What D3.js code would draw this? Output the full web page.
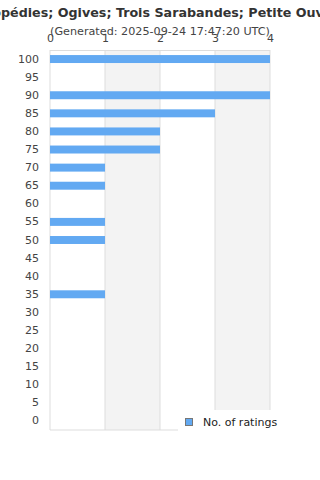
<!DOCTYPE html>
<html>
<head>
<meta charset="utf-8">
<script src="https://cdn.jsdelivr.net/npm/d3@7"></script>
<style>
  body { margin: 0; background: #fff; font-family: "DejaVu Sans", sans-serif; }
  svg { display: block; }
</style>
</head>
<body>
<svg width="320" height="480"></svg>
<script>
var categories = ["100","95","90","85","80","75","70","65","60","55","50","45","40","35","30","25","20","15","10","5","0"];
var ratings = [4,0,4,3,2,2,1,1,0,1,1,0,0,1,0,0,0,0,0,0,0];
var xTicks = [0,1,2,3,4];
var seriesName = "No. of ratings";
var title = "Gymnopédies; Ogives; Trois Sarabandes; Petite Ouverture";
var subtitle = "(Generated: 2025-09-24 17:47:20 UTC)";

var svg = d3.select("svg"),
    margin = {top: 50, right: 50, bottom: 50, left: 50},
    width = 320 - margin.left - margin.right,
    height = 480 - margin.top - margin.bottom;

var x = d3.scaleLinear().domain([0, 4]).range([0, width]),
    y = d3.scaleBand().domain(categories).range([0, height]).paddingInner(0.56).paddingOuter(0.28);

var g = svg.append("g")
    .attr("transform", "translate(" + margin.left + "," + margin.top + ")");

// alternating bands
g.selectAll(".band")
  .data(xTicks.slice(0, -1))
  .enter().append("rect")
    .attr("x", function(d) { return x(d); })
    .attr("y", 0)
    .attr("width", function(d) { return x(d + 1) - x(d); })
    .attr("height", height)
    .attr("fill", function(d, i) { return i % 2 ? "#f3f3f3" : "#fff"; });

// grid lines
g.selectAll(".grid")
  .data(xTicks)
  .enter().append("line")
    .attr("x1", function(d) { return x(d); })
    .attr("x2", function(d) { return x(d); })
    .attr("y1", 0)
    .attr("y2", height)
    .attr("stroke", "#ddd");

g.append("line").attr("x1", 0).attr("x2", width).attr("y1", 0.5).attr("y2", 0.5).attr("stroke", "#ddd");
g.append("line").attr("x1", 0).attr("x2", width).attr("y1", height).attr("y2", height).attr("stroke", "#ddd");

g.selectAll(".bar")
  .data(ratings)
  .enter().append("rect")
    .attr("x", 0)
    .attr("y", function(d, i) { return y(categories[i]); })
    .attr("width", function(d) { return x(d); })
    .attr("height", y.bandwidth())
    .attr("fill", "#62a9f2");

var yAxis = g.append("g")
    .call(d3.axisLeft(y).tickSize(0).tickPadding(11));
yAxis.select(".domain").remove();
yAxis.selectAll("text")
    .style("font-family", "DejaVu Sans")
    .style("font-size", "11px")
    .attr("fill", "#444");

var xAxis = g.append("g")
    .call(d3.axisTop(x).tickValues(xTicks).tickSize(0).tickPadding(8).tickFormat(d3.format("d")));
xAxis.select(".domain").remove();
xAxis.selectAll("text")
    .style("font-family", "DejaVu Sans")
    .style("font-size", "11px")
    .attr("fill", "#444");

svg.append("text")
    .attr("x", 160).attr("y", 17)
    .attr("text-anchor", "middle")
    .style("font-family", "DejaVu Sans")
    .style("font-size", "12.7px")
    .style("font-weight", "bold")
    .attr("fill", "#333")
    .text(title);

svg.append("text")
    .attr("x", 160).attr("y", 35)
    .attr("text-anchor", "middle")
    .style("font-family", "DejaVu Sans")
    .style("font-size", "11.2px")
    .attr("fill", "#444")
    .text(subtitle);

// legend
var legend = svg.append("g").attr("transform", "translate(178,410)");
legend.append("rect").attr("width", 142).attr("height", 22).attr("fill", "#fff");
legend.append("rect").attr("x", 7.5).attr("y", 8.5).attr("width", 7).attr("height", 7)
    .attr("fill", "#62a9f2").attr("stroke", "#777");
legend.append("text").attr("x", 25).attr("y", 16)
    .style("font-family", "DejaVu Sans")
    .style("font-size", "11px")
    .attr("fill", "#222")
    .text(seriesName);
</script>
</body>
</html>
